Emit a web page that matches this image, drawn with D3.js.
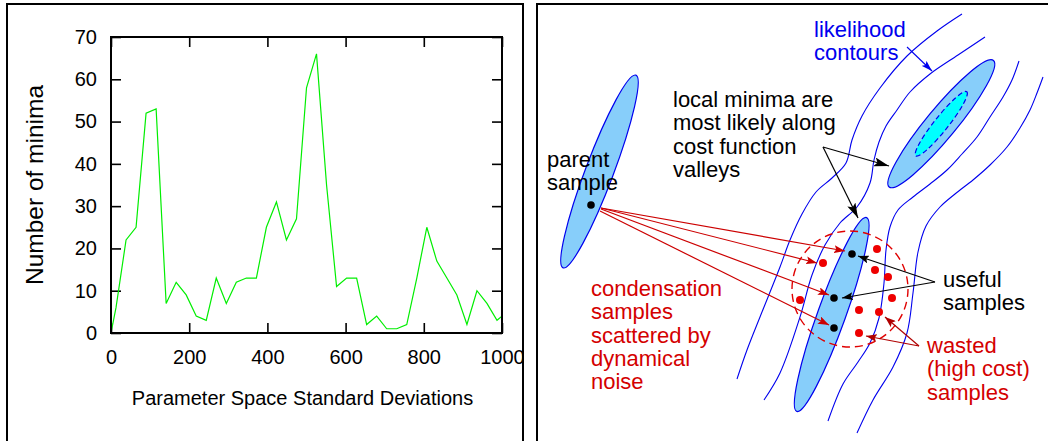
<!DOCTYPE html>
<html>
<head>
<meta charset="utf-8">
<script src="https://cdn.jsdelivr.net/npm/d3@7"></script>
<style>
html, body { margin: 0; padding: 0; background: #fff; }
svg { display: block; font-family: "Liberation Sans", Arial, Helvetica, sans-serif; }
</style>
</head>
<body>
<svg id="fig" width="1048" height="441"></svg>
<script>
// ---- left panel data: number of minima vs. parameter space std devs
var sigma = [0, 12.8, 38.5, 64.1, 89.7, 115.4, 141.0, 166.7, 192.3, 217.9, 243.6,
  269.2, 294.9, 320.5, 346.2, 371.8, 397.4, 423.1, 448.7, 474.4, 500.0,
  525.6, 551.3, 576.9, 602.6, 628.2, 653.8, 679.5, 705.1, 730.8, 756.4,
  782.1, 807.7, 833.3, 859.0, 884.6, 910.3, 935.9, 961.5, 987.2, 1000]
var minima = [0, 6, 22, 25, 52, 53, 7, 12, 9, 4, 3,
  13, 7, 12, 13, 13, 25, 31, 22, 27, 58,
  66, 35, 11, 13, 13, 2, 4, 1, 1, 2,
  13, 25, 17, 13, 9, 2, 10, 7, 3, 4]
var xTicks = [0, 200, 400, 600, 800, 1000]
var yTicks = [0, 10, 20, 30, 40, 50, 60, 70]
var xTitle = "Parameter Space Standard Deviations"
var yTitle = "Number of minima"

// ---- right panel data (diagram coordinates)
var contours = [
  [[962,14],[937,31],[907,56],[880,88],[862,116],[852,140],[846,163],[832,178],[816,192],[802,214],[790,240],[780,267],[760,317],[747,350],[737,379]],
  [[985,37],[958,55],[930,74],[910,92],[897,110],[886,126],[879,142],[874,160],[870,183],[857,207],[840,223],[825,245],[812,275],[800,317],[780,373],[764,400]],
  [[1019,61],[1012,80],[1003,97],[990,117],[977,137],[962,154],[947,170],[930,184],[913,197],[898,210],[890,227],[886,250],[884,283],[879,318],[870,343],[858,362],[843,384],[828,421]],
  [[1043,77],[1037,93],[1030,110],[1020,128],[1007,147],[990,165],[973,180],[955,194],[940,207],[926,226],[918,252],[913,293],[907,333],[893,367],[873,400],[857,433]]
]
var ellipses = [
  {cx: 599.5, cy: 171.5, rx: 103, ry: 14, angle: -69.3, fill: "#87cefa"},
  {cx: 831.7, cy: 314.5, rx: 103, ry: 14, angle: -70.2, fill: "#87cefa"},
  {cx: 941.3, cy: 123.7, rx: 82, ry: 15, angle: -50.5, fill: "#87cefa"},
  {cx: 941.3, cy: 123.8, rx: 41, ry: 7, angle: -51.5, fill: "#00ffff", dashed: true}
]
var usefulDots = [[591,205],[852,254],[834,298],[834,328]]
var wastedDots = [[877,249],[823,263],[875,270],[888,277],[800,300],[892,298],[859,310],[879,312],[859,333]]
var noiseCircle = {cx: 850, cy: 289, r: 58}

var redArrows = [[[601,208],[845,251]],[[601,208],[817,263]],[[601,209],[829,295]],[[600,211],[829,325]]]
var blackArrows = [[[823,147],[889,166]],[[823,147],[858,218]],[[935,282],[858,256]],[[935,282],[842,298]]]
var wastedArrows = [[[919,346],[885,317]],[[919,346],[866,336]]]
var blueArrows = [[[907,47],[932,71]]]

var labels = [
  {lines: ["parent", "sample"], x: 547, y: 167, color: "#000"},
  {lines: ["local minima are", "most likely along", "cost function", "valleys"], x: 673, y: 107, color: "#000"},
  {lines: ["likelihood", "contours"], x: 814, y: 37, color: "#0000ee"},
  {lines: ["condensation", "samples", "scattered by", "dynamical", "noise"], x: 591, y: 296, color: "#d40000"},
  {lines: ["useful", "samples"], x: 943, y: 287, color: "#000"},
  {lines: ["wasted", "(high cost)", "samples"], x: 927, y: 353, color: "#d40000"}
]

var svg = d3.select("#fig")
svg.append("rect").attr("width", 1048).attr("height", 441).attr("fill", "#fff")

// panel frames
svg.append("rect").attr("x", 7).attr("y", 4).attr("width", 516).attr("height", 460)
  .attr("fill", "none").attr("stroke", "#000").attr("stroke-width", 2)
svg.append("rect").attr("x", 537).attr("y", 4).attr("width", 540).attr("height", 460)
  .attr("fill", "none").attr("stroke", "#000").attr("stroke-width", 2)

// ================= left panel =================
var left = svg.append("g")
svg.append("clipPath").attr("id", "leftClip").append("rect")
  .attr("x", 8).attr("y", 5).attr("width", 514).attr("height", 440)
left.attr("clip-path", "url(#leftClip)")

var margin = {top: 37, right: 502, bottom: 333, left: 111}
var x = d3.scaleLinear().domain([0, 1000]).range([margin.left, margin.right])
var y = d3.scaleLinear().domain([0, 70]).range([margin.bottom, margin.top])

function styleAxis(g) {
  g.select(".domain").remove()
  g.selectAll(".tick line").attr("stroke", "#000").attr("stroke-width", 1.6)
  g.selectAll(".tick text").attr("fill", "#000").attr("font-size", 20)
    .attr("font-family", "'Liberation Sans', Arial, sans-serif")
}

left.append("g").attr("transform", `translate(0,${margin.bottom})`)
  .call(d3.axisBottom(x).tickValues(xTicks).tickSize(-10).tickPadding(17).tickFormat(d3.format("d")))
  .call(styleAxis)
left.append("g").attr("transform", `translate(0,${margin.top})`)
  .call(d3.axisTop(x).tickValues(xTicks).tickSize(-10).tickFormat(""))
  .call(styleAxis)
left.append("g").attr("transform", `translate(${margin.left},0)`)
  .call(d3.axisLeft(y).tickValues(yTicks).tickSize(-10).tickPadding(14))
  .call(styleAxis)
left.append("g").attr("transform", `translate(${margin.right},0)`)
  .call(d3.axisRight(y).tickValues(yTicks).tickSize(-10).tickFormat(""))
  .call(styleAxis)

var line = d3.line().x((d, i) => x(sigma[i])).y(d => y(d))
left.append("path").datum(minima)
  .attr("d", line)
  .attr("fill", "none")
  .attr("stroke", "#00ee00")
  .attr("stroke-width", 1.2)

left.append("rect")
  .attr("x", x(0)).attr("y", y(70))
  .attr("width", x(1000) - x(0)).attr("height", y(0) - y(70))
  .attr("fill", "none").attr("stroke", "#000").attr("stroke-width", 2)

left.append("text")
  .attr("x", (x(0) + x(1000)) / 2 - 4).attr("y", 405)
  .attr("text-anchor", "middle").attr("font-size", 20)
  .text(xTitle)
left.append("text")
  .attr("transform", `translate(43,${(y(0) + y(70)) / 2}) rotate(-90)`)
  .attr("text-anchor", "middle").attr("font-size", 24.5)
  .text(yTitle)

// ================= right panel =================
var right = svg.append("g")
var px = d3.scaleIdentity()
var py = d3.scaleIdentity()

var defs = svg.append("defs")
function arrowMarker(id, color, len, half) {
  defs.append("marker").attr("id", id)
    .attr("markerUnits", "userSpaceOnUse")
    .attr("viewBox", `${-len} ${-half} ${len} ${half * 2}`)
    .attr("refX", 0).attr("refY", 0)
    .attr("markerWidth", len).attr("markerHeight", half * 2)
    .attr("orient", "auto")
    .append("path")
    .attr("d", `M0,0L${-len},${-half}L${-len * 0.8},0L${-len},${half}Z`)
    .attr("fill", color)
}
arrowMarker("headRed", "#cc0000", 11, 4)
arrowMarker("headBlack", "#000", 15, 4.5)
arrowMarker("headBlackSmall", "#000", 11, 4)
arrowMarker("headDark", "#b00000", 11, 4)
arrowMarker("headBlue", "#0000ee", 11, 3.5)

var curve = d3.line().x(d => px(d[0])).y(d => py(d[1])).curve(d3.curveCatmullRom)

right.selectAll(".contour").data(contours).join("path")
  .attr("class", "contour")
  .attr("d", curve)
  .attr("fill", "none").attr("stroke", "#0000ee").attr("stroke-width", 1.1)

right.selectAll(".blob").data(ellipses).join("ellipse")
  .attr("class", "blob")
  .attr("transform", d => `translate(${px(d.cx)},${py(d.cy)}) rotate(${d.angle})`)
  .attr("rx", d => d.rx).attr("ry", d => d.ry)
  .attr("fill", d => d.fill)
  .attr("stroke", "#0000ee").attr("stroke-width", 1.2)
  .attr("stroke-dasharray", d => d.dashed ? "5,3" : null)

right.append("circle")
  .attr("cx", px(noiseCircle.cx)).attr("cy", py(noiseCircle.cy)).attr("r", noiseCircle.r)
  .attr("fill", "none").attr("stroke", "#e00000").attr("stroke-width", 1.4)
  .attr("stroke-dasharray", "8,5")

function drawArrows(data, color, marker, width) {
  right.append("g").selectAll("line").data(data).join("line")
    .attr("x1", d => px(d[0][0])).attr("y1", d => py(d[0][1]))
    .attr("x2", d => px(d[1][0])).attr("y2", d => py(d[1][1]))
    .attr("stroke", color).attr("stroke-width", width)
    .attr("marker-end", `url(#${marker})`)
}
drawArrows(redArrows, "#cc0000", "headRed", 1.2)
drawArrows(blackArrows.slice(0, 2), "#000", "headBlack", 1.2)
drawArrows(blackArrows.slice(2), "#000", "headBlackSmall", 1.2)
drawArrows(wastedArrows, "#b00000", "headDark", 1.2)
drawArrows(blueArrows, "#0000ee", "headBlue", 1.1)

right.selectAll(".wasted").data(wastedDots).join("circle")
  .attr("class", "wasted")
  .attr("cx", d => px(d[0])).attr("cy", d => py(d[1])).attr("r", 4)
  .attr("fill", "#ee0000")
right.selectAll(".useful").data(usefulDots).join("circle")
  .attr("class", "useful")
  .attr("cx", d => px(d[0])).attr("cy", d => py(d[1])).attr("r", 3.8)
  .attr("fill", "#000")

labels.forEach(function(lb) {
  var t = right.append("text")
    .attr("x", px(lb.x)).attr("y", py(lb.y))
    .attr("font-size", 22).attr("fill", lb.color)
  lb.lines.forEach(function(s, i) {
    t.append("tspan").attr("x", px(lb.x)).attr("dy", i === 0 ? 0 : 23.3).text(s)
  })
})
</script>
</body>
</html>
